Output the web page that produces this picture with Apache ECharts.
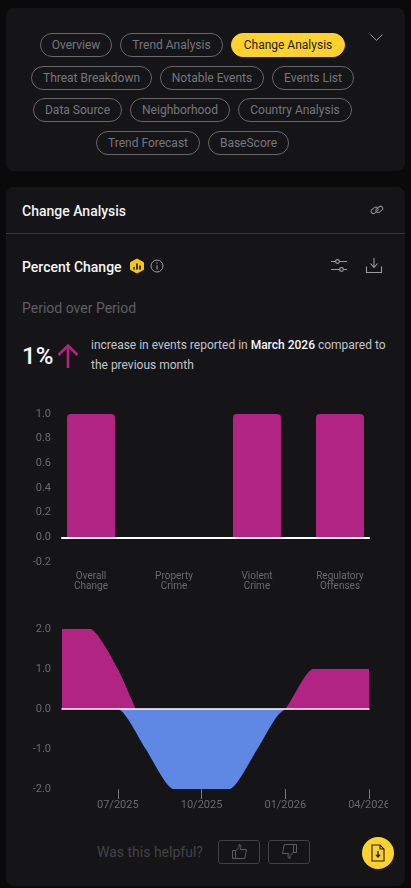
<!DOCTYPE html>
<html>
<head>
<meta charset="utf-8">
<title>Change Analysis</title>
<script src="https://cdn.jsdelivr.net/npm/echarts@6/dist/echarts.min.js"></script>
<style>
html, body { margin: 0; padding: 0; width: 411px; height: 888px; overflow: hidden; background: #0a0a0b; font-family: Roboto, sans-serif; }
.abs { position: absolute; white-space: nowrap; }
.card { position: absolute; left: 6px; width: 399px; background: #151518; border-radius: 8px; }
.pill { position: absolute; height: 22px; line-height: 22px; border: 1px solid #66666c; border-radius: 12px; color: #76767c; font-size: 12px; text-align: center; box-sizing: content-box; }
.pill.on { background: #fdd22d; border-color: #fdd22d; color: #1b1b1d; }
.thumb { position: absolute; top: 840px; width: 40px; height: 22px; border: 1px solid #414146; border-radius: 3px; }
svg { position: absolute; fill: none; }
</style>
</head>
<body>
<div class="card" style="top:8px;height:163px"></div>
<div class="card" style="top:187px;height:699px"></div>

<div class="pill" style="left:40px;top:33px;width:70px">Overview</div>
<div class="pill" style="left:120px;top:33px;width:101px">Trend Analysis</div>
<div class="pill on" style="left:231px;top:33px;width:112px">Change Analysis</div>
<div class="pill" style="left:31px;top:66px;width:119px">Threat Breakdown</div>
<div class="pill" style="left:160px;top:66px;width:102px">Notable Events</div>
<div class="pill" style="left:272px;top:66px;width:80px">Events List</div>
<div class="pill" style="left:33px;top:98px;width:87px">Data Source</div>
<div class="pill" style="left:130px;top:98px;width:98px">Neighborhood</div>
<div class="pill" style="left:238px;top:98px;width:112px">Country Analysis</div>
<div class="pill" style="left:96px;top:131px;width:102px">Trend Forecast</div>
<div class="pill" style="left:208px;top:131px;width:79px">BaseScore</div>
<svg style="left:369px;top:32px" width="16" height="12" viewBox="0 0 16 12"><path d="M1.5 2.5 L7.5 8.5 L13.5 2.5" stroke="#9a9aa0" stroke-width="1"/></svg>

<div class="abs" style="left:22px;top:202px;font-size:14px;font-weight:500;color:#f2f2f2;line-height:18px">Change Analysis</div>
<svg style="left:370px;top:203px" width="14" height="14" viewBox="0 0 14 14"><g stroke="#8a8a90" stroke-width="1"><rect x="0.8" y="5.2" width="7.5" height="4.4" rx="2.2" transform="rotate(-38 4.5 7.4)"/><rect x="5.6" y="4.2" width="7.5" height="4.4" rx="2.2" transform="rotate(-38 9.4 6.4)"/></g></svg>
<div class="abs" style="top:233px;height:1px;background:#35353a;left:6px;width:399px"></div>

<div class="abs" style="left:22px;top:258px;font-size:14px;font-weight:500;color:#f5f5f5;line-height:18px">Percent Change</div>
<svg style="left:129px;top:258px" width="16" height="16" viewBox="0 0 16 16"><path d="M8 1 L14.5 4.5 V11.5 L8 15 L1.5 11.5 V4.5 Z" fill="#f5c518" stroke="#f5c518" stroke-linejoin="round"/><path d="M5 11.5 V9 M8 11.5 V5.5 M11 11.5 V7.5" stroke="#1b1b1d" stroke-width="1.7"/></svg>
<svg style="left:150px;top:259px" width="14" height="14" viewBox="0 0 14 14"><circle cx="7" cy="7" r="6" stroke="#9a9aa0" stroke-width="1"/><path d="M7 6.2 V10.4 M7 3.6 V4.8" stroke="#9a9aa0" stroke-width="1.1"/></svg>
<svg style="left:330px;top:258px" width="18" height="16" viewBox="0 0 18 16"><g stroke="#9a9aa0" stroke-width="1.1"><path d="M1 3.5 H5.5 M9.5 3.5 H17 M1 11.5 H9.5 M13.5 11.5 H17"/><circle cx="7.5" cy="3.5" r="1.9"/><circle cx="11.5" cy="11.5" r="1.9"/></g></svg>
<svg style="left:365px;top:257px" width="18" height="17" viewBox="0 0 18 17"><g stroke="#9a9aa0" stroke-width="1.1"><path d="M9 1 V10 M5.5 6.5 L9 10.5 L12.5 6.5 M1.5 9.5 V15.5 H16.5 V9.5"/></g></svg>

<div class="abs" style="left:22px;top:300px;font-size:14px;color:#5e5e64;line-height:17px">Period over Period</div>
<div class="abs" style="left:22px;top:342px;font-size:24px;font-weight:500;color:#f5f5f5;line-height:28px">1%</div>
<svg style="left:57px;top:343px" width="22" height="26" viewBox="0 0 22 26"><path d="M11 25 V2.5 M1.5 12 L11 2.5 L20.5 12" stroke="#b22483" stroke-width="2.6"/></svg>
<div class="abs" style="left:91px;top:335px;font-size:12px;color:#c4c4c8;line-height:20px">increase in events reported in <b style="color:#f5f5f5;font-weight:500">March 2026</b> compared to<br>the previous month</div>

<div id="barChart" class="abs" style="left:0;top:400px;width:411px;height:200px"></div>
<div id="areaChart" class="abs" style="left:0;top:615px;width:388px;height:205px"></div>

<div class="abs" style="left:97px;top:843px;font-size:14px;color:#434348;line-height:18px">Was this helpful?</div>
<div class="thumb" style="left:218px"></div>
<div class="thumb" style="left:268px"></div>
<svg style="left:231px;top:843px" width="17" height="17" viewBox="0 0 17 17"><path d="M1.5 7.5 H4.5 V15.5 H1.5 Z M4.5 8 L8 4.5 V1.5 C10 1.5 10.5 3.5 9.5 6.5 H15.5 L13.8 15.5 H4.5" stroke="#5c5c62" stroke-width="1"/></svg>
<svg style="left:281px;top:843px" width="17" height="17" viewBox="0 0 17 17"><path d="M15.5 9.5 H12.5 V1.5 H15.5 Z M12.5 9 L9 12.5 V15.5 C7 15.5 6.5 13.5 7.5 10.5 H1.5 L3.2 1.5 H12.5" stroke="#5c5c62" stroke-width="1"/></svg>
<div class="abs" style="left:362px;top:837px;width:32px;height:32px;border-radius:16px;background:#fdd22d"></div>
<svg style="left:371px;top:844px" width="14" height="18" viewBox="0 0 14 18"><path d="M1 1 H9 L13 5 V17 H1 Z M9 1 V5 H13" stroke="#1b1b1d" stroke-width="1.1"/><path d="M7 7 V12.5" stroke="#1b1b1d" stroke-width="1.4"/><path d="M4.2 10.8 L7 14 L9.8 10.8 Z" fill="#1b1b1d"/></svg>

<script>
var barCategories = ['Overall\nChange', 'Property\nCrime', 'Violent\nCrime', 'Regulatory\nOffenses'];
var barValues = [1, 0, 1, 1];
var barPositions = [0, 1, 2, 3];

var months = ['05/2025', '06/2025', '07/2025', '08/2025', '09/2025', '10/2025',
              '11/2025', '12/2025', '01/2026', '02/2026', '03/2026', '04/2026'];
// the pink area only shows on both sides of the blue one
var increaseValues = [2, 2, 1, -0.6, null, null, null, -0.5, 0, 1, 1, 1];
var decreaseValues = [0, 0, 0, -1, -2, -2, -2, -1, 0, 0, 0, 0];

var PINK = '#b22483';
var BLUE = '#5f88e5';
var LABEL = '#69696f';
var FONT = 'Roboto';

function showQuarter(i) {
    return i % 3 === 2;
}

var yAxisStyle = {
    axisLine: { show: false },
    axisTick: { show: false },
    splitLine: { show: false },
    axisLabel: { color: LABEL, fontSize: 11, fontFamily: FONT, margin: 11, formatter: function (v) { return v.toFixed(1); } }
};

var barChart = echarts.init(document.getElementById('barChart'));
barChart.setOption({
    animation: false,
    grid: { left: 62, width: 307, top: 14, height: 148, outerBoundsMode: 'none' },
    xAxis: [
        { type: 'value', min: -0.35, max: 3.35, z: 5, axisLine: { onZero: true, lineStyle: { color: '#fff', width: 2 } }, axisTick: { show: false }, axisLabel: { show: false }, splitLine: { show: false } },
        { type: 'value', position: 'bottom', min: -0.35, max: 3.35, axisLine: { show: false, onZero: false }, axisTick: { show: false }, splitLine: { show: false },
          axisLabel: { customValues: barPositions, color: LABEL, fontSize: 10, lineHeight: 10, fontFamily: FONT, margin: 9, formatter: function (v) { return barCategories[v]; } } }
    ],
    yAxis: Object.assign({ type: 'value', min: -0.2, max: 1, interval: 0.2 }, yAxisStyle),
    series: [{
        type: 'bar',
        barWidth: 48,
        data: barValues.map(function (v, i) { return [barPositions[i], v]; }),
        itemStyle: { color: PINK, borderRadius: [4, 4, 0, 0] }
    }]
});

function areaSeries(values, color) {
    return {
        type: 'line',
        data: values,
        smooth: 0.2,
        showSymbol: false,
        lineStyle: { width: 0 },
        areaStyle: { color: color, opacity: 1, origin: 0 }
    };
}

var areaChart = echarts.init(document.getElementById('areaChart'));
areaChart.setOption({
    animation: false,
    grid: { left: 62, width: 307, top: 14, height: 160, outerBoundsMode: 'none' },
    xAxis: [
        { type: 'category', data: months, boundaryGap: false, z: 5, axisLine: { onZero: true, lineStyle: { color: '#fff', width: 1.5 } }, axisTick: { show: false }, axisLabel: { show: false } },
        { type: 'category', data: months, boundaryGap: false, position: 'bottom', axisLine: { show: false, onZero: false },
          axisTick: { length: 10, interval: showQuarter, lineStyle: { color: '#77777d' } },
          axisLabel: { interval: showQuarter, color: LABEL, fontSize: 11, fontFamily: FONT, margin: 11 } }
    ],
    yAxis: Object.assign({ type: 'value', min: -2, max: 2, interval: 1 }, yAxisStyle),
    series: [areaSeries(increaseValues, PINK), areaSeries(decreaseValues, BLUE)]
});
</script>
</body>
</html>
